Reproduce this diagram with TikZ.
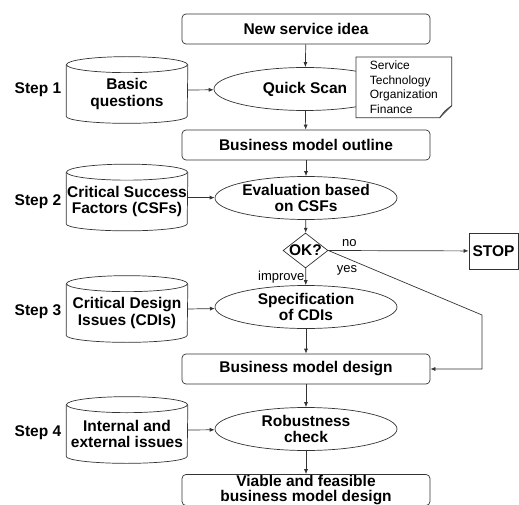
\documentclass[tikz,border=0pt]{standalone}
\usepackage{fontspec}
\setmainfont{Liberation Sans}
\usetikzlibrary{shapes.geometric,arrows.meta,positioning}

\begin{document}
\begin{tikzpicture}[x=1pt,y=-1pt,
  every node/.style={font=\fontsize{15.5}{16.5}\selectfont\bfseries},
  box/.style={draw,rounded corners=4pt,minimum width=248pt,minimum height=30pt,inner sep=0pt,align=center},
  oval/.style={draw,ellipse,minimum width=182pt,minimum height=43pt,inner sep=0pt,align=center},
  db/.style={minimum width=121pt,minimum height=66pt,inner sep=0pt,align=center,yshift=-4pt},
  lbl/.style={font=\fontsize{13}{14}\selectfont},
  flow/.style={-{Latex[length=5pt,width=4pt]}},
  line width=0.7pt,draw=black!80]
\useasboundingbox (0,0) rectangle (519,505);
% main column
\node[box] (idea) at (306,29) {New service idea};
\node[oval] (scan) at (305,89) {Quick Scan};
\node[box] (outline) at (306,145) {Business model outline};
\node[oval] (eval) at (306,198) {Evaluation based\\on CSFs};
\node[draw,diamond,minimum width=45pt,minimum height=35pt,inner sep=0pt,label={center:OK?}] (ok) at (305.5,250.5) {};
\node[oval] (spec) at (306,307) {Specification\\of CDIs};
\node[box] (design) at (306,369) {Business model design};
\node[oval] (robust) at (306,429) {Robustness\\check};
\node[box,minimum height=31pt,font=\fontsize{15.5}{15}\selectfont\bfseries] (viable) at (306,490) {Viable and feasible\\business model design};
\node[draw,minimum width=49pt,minimum height=36pt,inner sep=0pt] (stop) at (493.5,251) {STOP};
% note
\node[fill=white,anchor=north west,minimum width=95pt,minimum height=60pt,inner xsep=10pt,inner ysep=0pt,align=left,font=\fontsize{12}{14.5}\selectfont] (note) at (356,57) {Service\\Technology\\Organization\\Finance};
\draw (note.north west) -- (note.north east) -- ([yshift=12pt]note.south east) -- ([xshift=-12pt]note.south east) -- (note.south west) -- cycle;
\draw ([yshift=12pt]note.south east) .. controls ([xshift=-7pt,yshift=7pt]note.south east) .. ([xshift=-12pt]note.south east);
% inputs
\node[db] (basic) at (127,90) {Basic\\questions};
\node[db] (csf) at (127,197.5) {Critical Success\\Factors (CSFs)};
\node[db] (cdi) at (127,309) {Critical Design\\Issues (CDIs)};
\node[db] (issues) at (127,430) {Internal and\\external issues};
\foreach \n in {basic,csf,cdi,issues} {
  \draw ([yshift=-4pt]\n.north) ellipse[x radius=60.5pt,y radius=8pt];
  \draw ([yshift=-4pt]\n.north west) -- ([yshift=11pt]\n.south west)
    arc[start angle=180,end angle=360,x radius=60.5pt,y radius=7pt] -- ([yshift=-4pt]\n.north east);
}
\node (s1) at (38,90) {Step 1};
\node (s2) at (38,202) {Step 2};
\node (s3) at (38,312) {Step 3};
\node (s4) at (38,433) {Step 4};
% arrows
\draw[flow] (idea) -- (scan);
\draw[flow] (scan) -- (outline);
\draw[flow] (outline) -- (eval);
\draw[flow] (eval) -- (ok);
\draw[flow] (ok) -- node[lbl,left,inner sep=1pt] {improve} (spec);
\draw[flow] (spec) -- (design);
\draw[flow] (design) -- (robust);
\draw[flow] (robust) -- (viable);
\draw[flow] ([yshift=4pt]basic.east) -- (scan);
\draw[flow] ([yshift=4pt]csf.east) -- (eval);
\draw[flow] ([yshift=4pt]cdi.east) -- (spec);
\draw[flow] ([yshift=4pt]issues.east) -- (robust);
\draw[flow] (ok.east) -- node[lbl,pos=0.15,above] {no} (stop);
\coordinate (bend) at (482,315);
\draw[flow] (ok.east) -- (bend) |- (design.east);
\node[lbl] (yes) at (347,270) {yes};
\end{tikzpicture}
\end{document}
